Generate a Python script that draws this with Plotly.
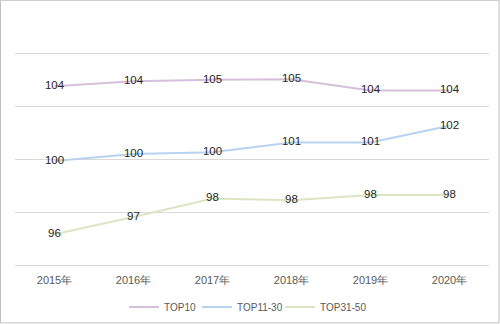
import plotly.graph_objects as go

years = ["2015年", "2016年", "2017年", "2018年", "2019年", "2020年"]
top10 = [104.15, 104.44, 104.52, 104.56, 103.92, 103.92]
top11_30 = [99.91, 100.31, 100.41, 100.96, 100.96, 101.92]
top31_50 = [95.76, 96.74, 97.79, 97.69, 97.98, 97.98]

series = [
    ("TOP10", top10, "#D7BFDC", "legend"),
    ("TOP11-30", top11_30, "#B7D3F0", "legend2"),
    ("TOP31-50", top31_50, "#DCE5C3", "legend3"),
]

W, H = 500, 324
ml, mr, mt, mb = 15, 11, 52.2, 56.9

fig = go.Figure()
for name, vals, color, lg in series:
    fig.add_trace(go.Scatter(
        x=years, y=vals, name=name, mode="lines+text",
        line=dict(color=color, width=2),
        text=vals, texttemplate="%{y:.0f}", textposition="middle center",
        textfont=dict(family="Liberation Sans", size=11.5, color="#262626"),
        cliponaxis=False, hoverinfo="skip", legend=lg,
    ))

pw = W - ml - mr
ph = H - mt - mb
# outer chart border
fig.add_shape(
    type="rect", xref="paper", yref="paper",
    x0=(0.5 - ml) / pw, x1=(W - 1 - ml) / pw,
    y0=-(mb - 1) / ph, y1=(H - mb - 0.5) / ph,
    line=dict(color="#BFBFBF", width=1), layer="below",
)

legend_font = dict(family="Liberation Sans", size=10, color="#595959")


def legend_at(px):
    return dict(
        orientation="h", xref="container", x=px / W, xanchor="left",
        yref="container", y=(H - 307) / H, yanchor="middle",
        font=legend_font, bgcolor="rgba(0,0,0,0)",
    )


fig.update_layout(
    width=W, height=H,
    margin=dict(l=ml, r=mr, t=mt, b=mb, autoexpand=False),
    paper_bgcolor="white", plot_bgcolor="white",
    showlegend=True,
    legend=legend_at(124),
    legend2=legend_at(197),
    legend3=legend_at(280),
    xaxis=dict(
        type="category", range=[-0.5, 5.5], showgrid=False, zeroline=False,
        showline=False, ticks="", ticklabelstandoff=5,
        tickfont=dict(family="Liberation Sans", size=11, color="#595959"),
    ),
    yaxis=dict(
        range=[93.9, 106.1], dtick=3, tick0=94, showticklabels=False,
        showgrid=True, gridcolor="#D9D9D9", gridwidth=1, zeroline=False,
        showline=False, ticks="",
    ),
)

fig.write_html("out.html")
